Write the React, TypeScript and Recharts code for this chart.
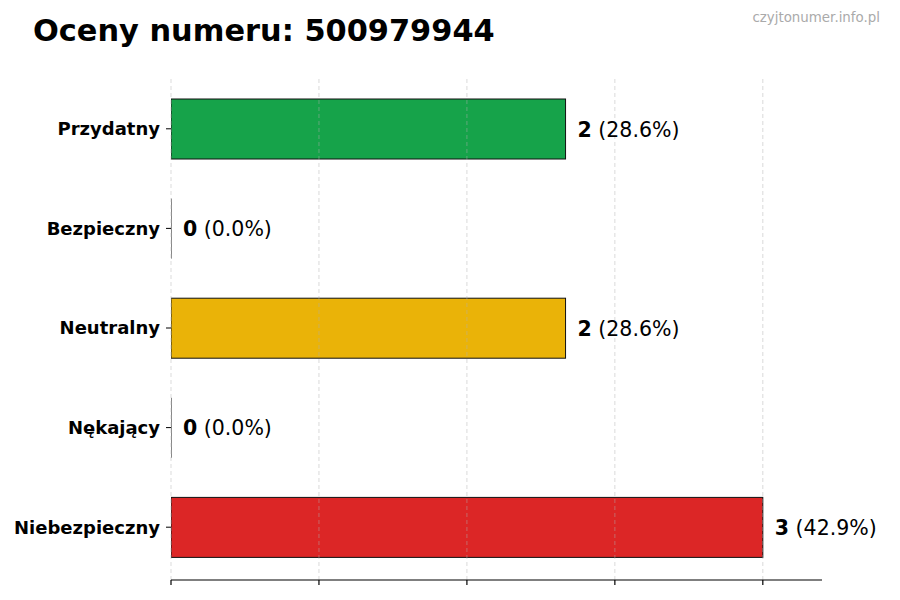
import { BarChart, Bar, XAxis, YAxis, ReferenceLine, LabelList, Cell } from "recharts";

const CATEGORIES = ["Przydatny", "Bezpieczny", "Neutralny", "Nękający", "Niebezpieczny"];
const COUNTS = [2, 0, 2, 0, 3];
const X_TICKS = [0, 0.75, 1.5, 2.25, 3];

const BAR_COLORS = ["#16a34a", "#2563eb", "#eab308", "#f97316", "#dc2626"];
const FONT = "'DejaVu Sans', sans-serif";

const TOTAL = COUNTS.reduce((a, b) => a + b, 0);
const data = CATEGORIES.map((name, i) => ({ name, value: COUNTS[i] }));
const X_MAX = Math.max(...COUNTS) * 1.1;

// zero-width bars still get their edge line, like the original
function BarShape(props: any) {
  const { x, y, width, height, fill } = props;
  if (!width || width <= 0) {
    return <line x1={x} x2={x} y1={y} y2={y + height} stroke="#111" strokeWidth={1} />;
  }
  return (
    <rect x={x} y={y} width={width} height={height} fill={fill} stroke="#111" strokeWidth={1} />
  );
}

function ValueLabel(props: any) {
  const { x, y, width, height, value } = props;
  const pct = TOTAL ? ((value / TOTAL) * 100).toFixed(1) : "0.0";
  return (
    <text
      x={x + width + 12}
      y={y + height / 2 + 7.5}
      fontFamily={FONT}
      fontSize={20.5}
      fill="#000"
    >
      <tspan fontWeight="bold">{value}</tspan>
      <tspan> ({pct}%)</tspan>
    </text>
  );
}

const emptyTick = () => <g />;

export default function App() {
  return (
    <div style={{ position: "absolute", left: 0, top: 0, width: 900, height: 600, background: "#fff" }}>
      <BarChart
        width={900}
        height={600}
        data={data}
        layout="vertical"
        margin={{ top: 76, right: 78, left: 0, bottom: 0 }}
      >
        <XAxis
          type="number"
          domain={[0, X_MAX]}
          ticks={X_TICKS}
          allowDataOverflow
          height={20}
          tick={emptyTick}
          tickSize={5}
          axisLine={{ stroke: "#000", strokeWidth: 1.2 }}
          tickLine={{ stroke: "#000", strokeWidth: 1.2 }}
        />
        <YAxis
          type="category"
          dataKey="name"
          width={171}
          padding={{ top: 3, bottom: 3 }}
          axisLine={false}
          tickSize={5}
          tickMargin={6}
          tickLine={{ stroke: "#000", strokeWidth: 1 }}
          tick={{ fill: "#000", fontSize: 18, fontWeight: "bold", fontFamily: FONT }}
        />
        <Bar dataKey="value" barSize={60} shape={BarShape} isAnimationActive={false}>
          {data.map((_, i) => (
            <Cell key={i} fill={BAR_COLORS[i]} />
          ))}
          <LabelList dataKey="value" content={ValueLabel} />
        </Bar>
        {X_TICKS.map((t) => (
          <ReferenceLine
            key={t}
            x={t}
            stroke="#b0b0b0"
            strokeOpacity={0.6}
            strokeDasharray="4 3"
            strokeWidth={0.8}
          />
        ))}
      </BarChart>
      <svg
        width={900}
        height={600}
        style={{ position: "absolute", left: 0, top: 0, pointerEvents: "none" }}
      >
        <text x={33} y={41} fontFamily={FONT} fontSize={30.4} fontWeight="bold" fill="#000">
          Oceny numeru: 500979944
        </text>
        <text x={880} y={22} textAnchor="end" fontFamily={FONT} fontSize={13.4} fill="#aaaaaa">
          czyjtonumer.info.pl
        </text>
      </svg>
    </div>
  );
}
